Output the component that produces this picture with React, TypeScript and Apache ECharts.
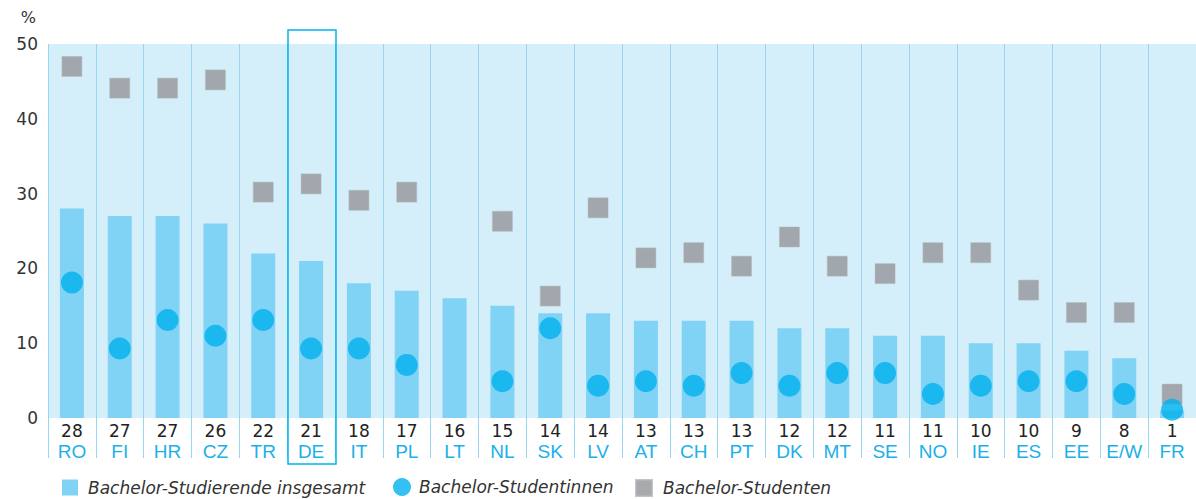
import React, { useEffect, useRef } from "react";
import * as echarts from "echarts";

const countries = ["RO","FI","HR","CZ","TR","DE","IT","PL","LT","NL","SK","LV","AT","CH","PT","DK","MT","SE","NO","IE","ES","EE","E/W","FR"];
const total = [28,27,27,26,22,21,18,17,16,15,14,14,13,13,13,12,12,11,11,10,10,9,8,1];
const women: (number | null)[] = [18.1,9.3,13.1,11,13.1,9.3,9.3,7.1,null,4.9,12,4.3,4.9,4.3,6,4.3,6,6,3.2,4.3,4.9,4.9,3.2,1.1];
const men: (number | null)[] = [47,44.1,44.1,45.2,30.2,31.3,29.1,30.2,null,26.3,16.3,28.1,21.4,22.1,20.3,24.2,20.3,19.3,22.1,22.1,17.1,14.1,14.1,3.2];
const yTicks = { min: 0, max: 50, interval: 10 };
const highlight = "DE";
const legendNames = ["Bachelor-Studierende insgesamt", "Bachelor-Studentinnen", "Bachelor-Studenten"];

const FONT = "'DejaVu Sans', sans-serif";
const NARROW = "'Liberation Sans Narrow', 'Liberation Sans', sans-serif";
const DIV = "#94d6f4";

export default function App() {
  const ref = useRef<HTMLDivElement>(null);
  useEffect(() => {
    if (!ref.current) return;
    const chart = echarts.init(ref.current, undefined, { renderer: "svg" });
    const legendText = { fontFamily: FONT, fontSize: 17, fontStyle: "italic" as const, color: "#333", padding: [0, 0, 0, 5] };
    const lg = { top: 479, padding: 0, itemWidth: 16, itemHeight: 16, itemGap: 10, textStyle: legendText };
    chart.setOption({
      animation: false,
      textStyle: { fontFamily: FONT },
      grid: { left: 48, top: 44, width: 1151, bottom: 81, show: true, backgroundColor: "#d4eefa", borderWidth: 0 },
      legend: [
        { ...lg, left: 62, data: [{ name: legendNames[0], icon: "rect" }] },
        { ...lg, left: 393, itemWidth: 18, itemHeight: 18, top: 478, textStyle: { ...legendText, padding: [0, 0, 0, 3] }, data: [{ name: legendNames[1], icon: "circle" }] },
        { ...lg, left: 635, textStyle: { ...legendText, padding: [0, 0, 0, 6] }, data: [{ name: legendNames[2], icon: "rect" }] },
      ],
      xAxis: {
        type: "category",
        data: countries,
        boundaryGap: true,
        axisLine: { show: false },
        axisTick: { show: true, interval: 0, length: 40, lineStyle: { color: DIV, width: 1 } },
        splitLine: { show: true, interval: 0, lineStyle: { color: DIV, width: 1 } },
        axisLabel: {
          interval: 0,
          margin: 3,
          formatter: (v: string, i: number) => `{v|${total[i]}}\n{c|${v}}`,
          rich: {
            v: { fontFamily: FONT, fontSize: 17, color: "#222", lineHeight: 20 },
            c: { fontFamily: NARROW, fontSize: 19, color: "#1ab0ea", lineHeight: 20 },
          },
        },
      },
      yAxis: {
        type: "value",
        min: yTicks.min,
        max: yTicks.max,
        interval: yTicks.interval,
        name: "%",
        nameLocation: "end",
        nameGap: 19,
        nameTextStyle: { fontFamily: FONT, fontSize: 16, color: "#333", align: "right", padding: [0, 12, 0, 0] },
        axisLine: { show: false },
        axisTick: { show: false },
        splitLine: { show: false },
        axisLabel: { fontFamily: FONT, fontSize: 17, color: "#333", margin: 10 },
      },
      series: [
        { name: legendNames[0], type: "bar", data: total, barWidth: 24, itemStyle: { color: "#80d3f5" }, z: 2 },
        { name: legendNames[2], type: "scatter", data: men, symbol: "rect", symbolSize: 20, itemStyle: { color: "#939598", borderColor: "#b5b7ba", borderWidth: 0.6 }, z: 3 },
        { name: legendNames[1], type: "scatter", data: women, symbol: "circle", symbolSize: 22, itemStyle: { color: "#00b2ee" }, z: 4 },
      ],
    });
    const idx = countries.indexOf(highlight);
    const c0 = chart.convertToPixel({ xAxisIndex: 0 }, countries[0]) as number;
    const c1 = chart.convertToPixel({ xAxisIndex: 0 }, countries[1]) as number;
    const cx = chart.convertToPixel({ xAxisIndex: 0 }, countries[idx]) as number;
    const w = c1 - c0;
    const yTop = chart.convertToPixel({ yAxisIndex: 0 }, yTicks.max) as number;
    const yBot = chart.convertToPixel({ yAxisIndex: 0 }, yTicks.min) as number;
    chart.setOption({
      graphic: [
        {
          type: "rect",
          shape: { x: Math.round(cx - w / 2) + 1, y: Math.round(yTop) - 14, width: Math.round(w), height: Math.round(yBot - yTop) + 14 + 46 },
          style: { fill: "none", stroke: "#00b4f0", lineWidth: 1.5 },
          z: 10,
        },
      ],
    });
    return () => chart.dispose();
  }, []);
  return <div ref={ref} style={{ width: 1196, height: 499, position: "absolute", left: 0, top: 0 }} />;
}
